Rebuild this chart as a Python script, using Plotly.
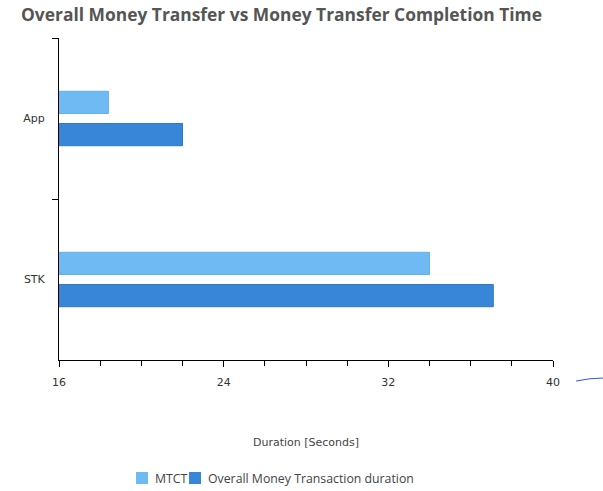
import plotly.graph_objects as go

categories = ["App", "STK"]
mtct = [18.4, 34.0]
overall = [22.0, 37.1]
series_names = ["MTCT", "Overall Money Transaction duration"]
series_colors = ["#6fbaf3", "#3886d8"]
x_ticks = [16, 24, 32, 40]

W, H = 603, 491
L, R, T, B = 59, 50, 38, 131
PW, PH = W - L - R, H - T - B


def px_x(x):
    return (x - L) / PW


def px_y(y):
    return (H - B - y) / PH


fig = go.Figure()
fig.add_trace(go.Bar(y=categories, x=mtct, orientation="h", name=series_names[0],
                     marker=dict(color=series_colors[0], line=dict(color="#62b0ec", width=1))))
fig.add_trace(go.Bar(y=categories, x=overall, orientation="h", name=series_names[1],
                     marker=dict(color=series_colors[1], line=dict(color="#2f78c6", width=1))))

fig.update_layout(
    width=W, height=H,
    margin=dict(l=L, r=R, t=T, b=B, autoexpand=False),
    paper_bgcolor="white", plot_bgcolor="white",
    barmode="group", bargap=0.6, bargroupgap=0.31,
    font=dict(family="DejaVu Sans", size=11, color="#333"),
    title=dict(text="<b>Overall Money Transfer vs Money Transfer Completion Time</b>",
               font=dict(family="Open Sans", size=17.4, color="#555"),
               xref="container", yref="container", x=21 / W, xanchor="left",
               y=1 - 15 / H, yanchor="middle"),
    showlegend=False,
    xaxis=dict(range=[16, 40], tickvals=x_ticks, ticks="outside", ticklen=6,
               tickcolor="#000", showline=True, linecolor="#000", linewidth=1,
               showgrid=False, zeroline=False, ticklabelstandoff=6,
               minor=dict(dtick=2, ticks="outside", ticklen=5, tickcolor="#000", showgrid=False),
               tickfont=dict(family="DejaVu Sans", size=11, color="#333")),
    yaxis=dict(type="category", categoryorder="array", categoryarray=categories,
               range=[1.5, -0.5], tickson="boundaries", ticks="outside", ticklen=6,
               tickcolor="#000", showline=True, linecolor="#000", linewidth=1,
               showgrid=False, zeroline=False, ticklabelstandoff=11,
               tickfont=dict(family="DejaVu Sans", size=11, color="#333")),
)

fig.add_annotation(text="Duration [Seconds]", xref="paper", yref="paper",
                   x=0.5, y=px_y(443), xanchor="center", yanchor="middle",
                   showarrow=False, font=dict(family="DejaVu Sans", size=11, color="#444"))

# legend drawn as squares + labels
legend_items = [(136, 153), (189, 206)]
for (sx, tx), name, color in zip(legend_items, series_names, series_colors):
    fig.add_shape(type="rect", xref="paper", yref="paper",
                  x0=px_x(sx), x1=px_x(sx + 12), y0=px_y(472), y1=px_y(484),
                  fillcolor=color, line=dict(width=0))
    fig.add_annotation(text=name, xref="paper", yref="paper", x=px_x(tx), y=px_y(478),
                       xanchor="left", yanchor="middle", showarrow=False,
                       font=dict(family="Open Sans", size=12.3, color="#444"))

# small pen stroke at the right edge of the reference image
fig.add_shape(type="path", xref="paper", yref="paper",
              path=f"M {px_x(576)} {px_y(381)} Q {px_x(590)} {px_y(378)} {px_x(604)} {px_y(378)}",
              line=dict(color="#3355ee", width=1))

fig.write_html("out.html")
